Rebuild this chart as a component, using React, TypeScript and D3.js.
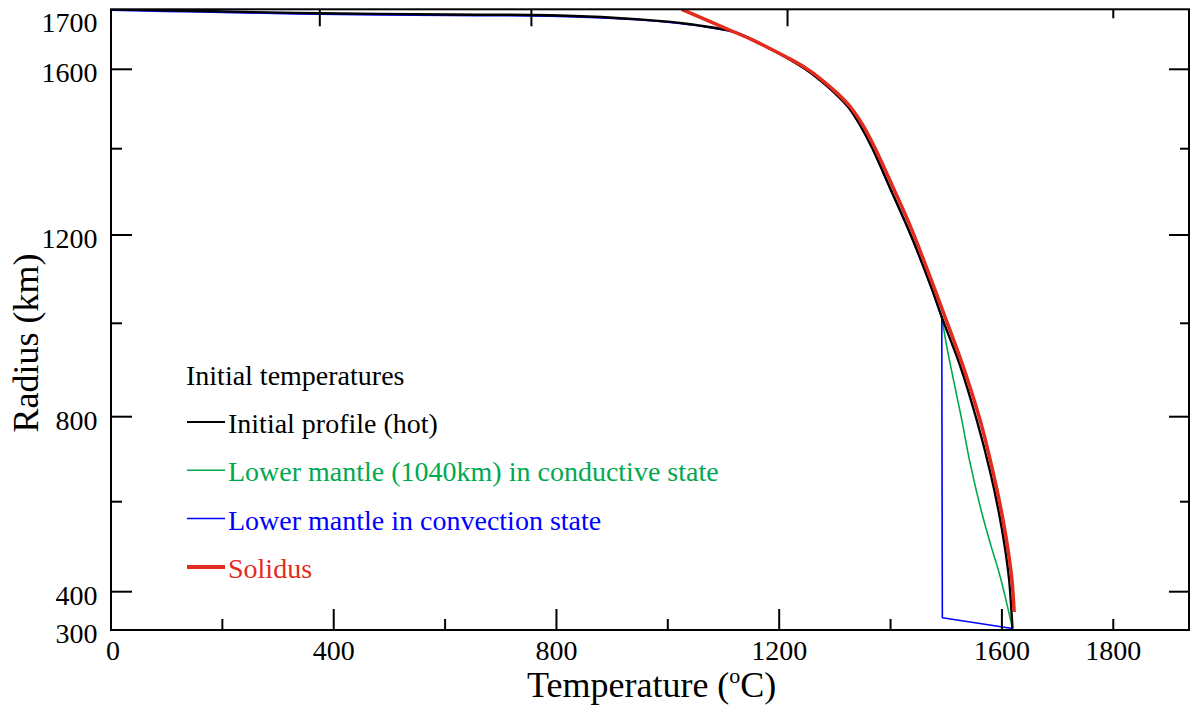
import * as d3 from 'd3';

// temperature (°C) / radius (km) pairs
const initialProfile: [number, number][] = [
  [0, 1737], [160, 1733], [375, 1728], [609, 1725], [806, 1723], [950, 1714],
  [1040, 1703], [1121, 1685], [1148, 1670], [1175, 1653], [1214, 1626],
  [1246, 1601], [1273, 1573], [1300, 1540], [1324, 1505], [1345, 1460],
  [1367, 1402], [1399, 1309], [1431, 1216], [1453, 1148], [1475, 1075],
  [1492, 1014], [1525, 909], [1555, 791], [1579, 670], [1595, 573],
  [1606, 493], [1613, 426], [1617, 352], [1619, 304],
];

const conductiveLower: [number, number][] = [
  [1492, 1014], [1501, 950], [1513, 879], [1528, 792], [1543, 690],
  [1561, 589], [1579, 508], [1597, 433], [1619, 304],
];

const convectionUpper: [number, number][] = [
  [0, 1735], [160, 1731], [375, 1726], [609, 1723], [806, 1721], [950, 1713],
  [1040, 1702], [1121, 1684], [1148, 1670], [1175, 1653], [1214, 1626],
  [1246, 1601], [1273, 1573], [1300, 1540], [1324, 1505], [1345, 1460],
  [1367, 1402], [1399, 1309], [1431, 1216], [1453, 1148], [1475, 1075],
  [1492, 1014],
];
const convectionLower: [number, number][] = [[1492, 1014], [1493, 332], [1619, 304]];

const solidus: [number, number][] = [
  [1025, 1737], [1121, 1684], [1149, 1669], [1176, 1652], [1216, 1626],
  [1250, 1601], [1277, 1573], [1304, 1540], [1328, 1505], [1350, 1460],
  [1372, 1402], [1405, 1309], [1437, 1216], [1458, 1148], [1480, 1075],
  [1498, 1014], [1530, 909], [1561, 791], [1584, 670], [1600, 573],
  [1611, 493], [1618, 426], [1622, 347],
];

const xMajor = [0, 400, 800, 1200, 1600];
const xMinor = [200, 600, 1000, 1400, 1800];
const xLabels = [0, 400, 800, 1200, 1600, 1800];
const yMajor = [400, 800, 1200, 1600];
const yMinor = [600, 1000, 1400];
const yLabels = [300, 400, 800, 1200, 1600, 1700];
const topTicks = [375, 755, 1215, 1800];
const radiusStops = [300, 400, 600, 800, 1000, 1200, 1400, 1600, 1737];

const legendItems = [
  { label: 'Initial profile (hot)', color: '#000000', width: 2 },
  { label: 'Lower mantle (1040km) in conductive state', color: '#00a94f', width: 1.5 },
  { label: 'Lower mantle in convection state', color: '#0000ff', width: 1.5 },
  { label: 'Solidus', color: '#e32b1e', width: 4 },
];

const FONT = '"Liberation Serif", "Times New Roman", serif';

export default function App() {
  const left = 111, right = 1189, top = 9.3, bottom = 630;
  const x = d3.scaleLinear().domain([0, 1936]).range([left, right]);
  // the radius axis of the original is slightly uneven, so it is piecewise
  const y = d3
    .scaleLinear()
    .domain(radiusStops)
    .range([bottom, 591.7, 501.7, 416.7, 323.3, 235, 148.7, 69.3, top]);

  const smooth = d3
    .line<[number, number]>()
    .x((d) => x(d[0]))
    .y((d) => y(d[1]))
    .curve(d3.curveCatmullRom.alpha(0.5));
  const straight = d3
    .line<[number, number]>()
    .x((d) => x(d[0]))
    .y((d) => y(d[1]));

  return (
    <svg
      width={1192}
      height={711}
      style={{ position: 'absolute', left: 0, top: 0, background: '#fff' }}
      fontFamily={FONT}
    >
      <defs>
        <clipPath id="plot">
          <rect x={left} y={top} width={right - left} height={bottom - top} />
        </clipPath>
      </defs>

      <g clipPath="url(#plot)" fill="none" strokeLinejoin="round">
        <path d={smooth(conductiveLower) || ''} stroke="#00a94f" strokeWidth={1.6} />
        <path d={smooth(convectionUpper) || ''} stroke="#0000ff" strokeWidth={1.8} />
        <path d={straight(convectionLower) || ''} stroke="#0000ff" strokeWidth={1.6} />
        <path d={smooth(initialProfile) || ''} stroke="#000" strokeWidth={2.4} />
        <path d={smooth(solidus) || ''} stroke="#e32b1e" strokeWidth={3.5} />
      </g>

      {/* frame */}
      <rect
        x={left}
        y={top}
        width={right - left}
        height={bottom - top}
        fill="none"
        stroke="#000"
        strokeWidth={2}
      />

      {/* ticks, pointing inward */}
      <g stroke="#000" strokeWidth={2}>
        {xMajor.map((t) => (
          <line key={'xM' + t} x1={x(t)} x2={x(t)} y1={bottom} y2={bottom - 21} />
        ))}
        {xMinor.map((t) => (
          <line key={'xm' + t} x1={x(t)} x2={x(t)} y1={bottom} y2={bottom - 11} />
        ))}
        {topTicks.map((t, i) => (
          <line key={'xt' + t} x1={x(t)} x2={x(t)} y1={top} y2={top + (i === 3 ? 9 : 17)} />
        ))}
        {yMajor.map((r) => (
          <g key={'yM' + r}>
            <line x1={left} x2={left + 21} y1={y(r)} y2={y(r)} />
            <line x1={right} x2={right - 20} y1={y(r)} y2={y(r)} />
          </g>
        ))}
        {yMinor.map((r) => (
          <g key={'ym' + r}>
            <line x1={left} x2={left + 11} y1={y(r)} y2={y(r)} />
            <line x1={right} x2={right - 9} y1={y(r)} y2={y(r)} />
          </g>
        ))}
      </g>

      {/* tick labels */}
      <g fontSize={28} fill="#000">
        {xLabels.map((t) => (
          <text key={'xl' + t} x={x(t) + (t === 0 ? 2 : 0)} y={660} textAnchor="middle">
            {t}
          </text>
        ))}
        {yLabels.map((r) => (
          <text
            key={'yl' + r}
            x={97.5}
            y={r === 1700 ? 22.5 : y(r) + 3}
            dy="0.35em"
            textAnchor="end"
          >
            {r}
          </text>
        ))}
      </g>

      {/* axis titles */}
      <text x={527} y={697} fontSize={36} fill="#000">
        Temperature (<tspan fontSize={22} dy={-14}>o</tspan>
        <tspan dy={14}>C)</tspan>
      </text>
      <text transform="translate(38,343) rotate(-90)" textAnchor="middle" fontSize={36} fill="#000">
        Radius (km)
      </text>

      {/* legend */}
      <g fontSize={28}>
        <text x={186} y={385} fill="#000">
          Initial temperatures
        </text>
        {legendItems.map((item, i) => {
          const ly = 422 + i * 48.3;
          return (
            <g key={item.label}>
              <line x1={187} x2={225} y1={ly} y2={ly} stroke={item.color} strokeWidth={item.width} />
              <text x={228} y={ly + 11} fill={item.color}>
                {item.label}
              </text>
            </g>
          );
        })}
      </g>
    </svg>
  );
}
